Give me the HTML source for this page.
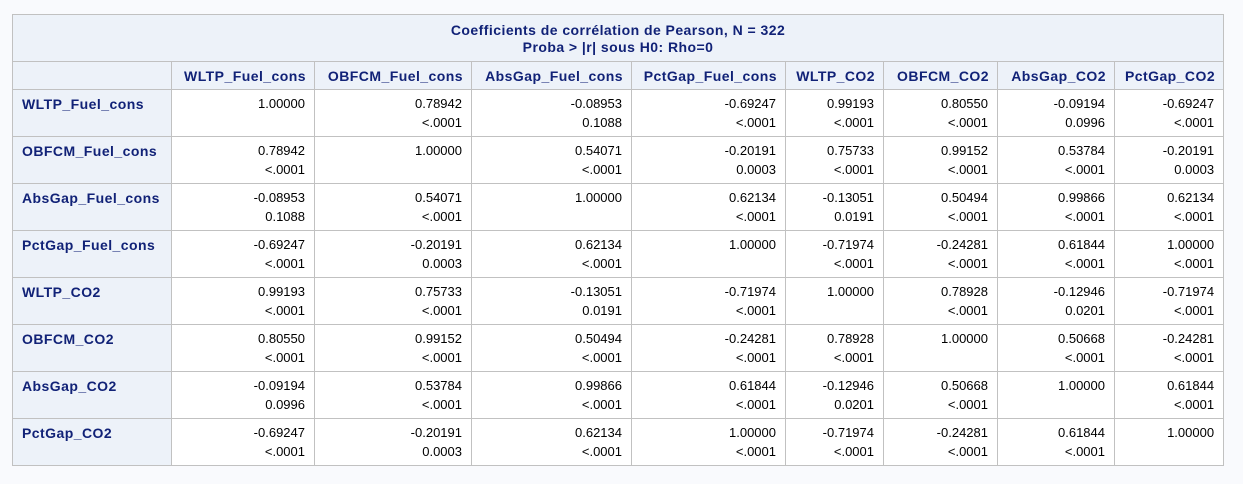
<!DOCTYPE html>
<html><head><meta charset="utf-8"><style>
body{margin:0;background:#f9fafd;width:1243px;height:484px;overflow:hidden;font-family:"Liberation Sans",Arial,sans-serif;}
table{position:absolute;left:12px;top:14px;width:1211px;border-collapse:collapse;table-layout:fixed;font-size:13px;}
td,th{border:1px solid #c1c1c1;padding:0 9px;box-sizing:border-box;}
th{background:#edf2f9;color:#112277;font-weight:bold;font-size:14px;letter-spacing:0.45px;white-space:nowrap;overflow:visible;}
th.ch{padding:0 8px 0 0;}
.title{height:47px;text-align:center;line-height:17px;padding-top:1px;}
.ch{height:28px;text-align:right;}
.rh{text-align:left;vertical-align:top;padding-top:5px;line-height:19px;height:47px;}
td{background:#fff;color:#000;text-align:right;vertical-align:top;padding-top:4px;line-height:19px;height:47px;}
</style></head><body>
<table>
<colgroup><col style="width:159px"><col style="width:143px"><col style="width:157px"><col style="width:160px"><col style="width:154px"><col style="width:98px"><col style="width:114px"><col style="width:117px"><col style="width:109px"></colgroup>
<tbody id="tb">
<tr><th class="title" colspan="9">Coefficients de corrélation de Pearson, N = 322<br>Proba &gt; |r| sous H0: Rho=0</th></tr>
</tbody></table>
<script>
const names=["WLTP_Fuel_cons","OBFCM_Fuel_cons","AbsGap_Fuel_cons","PctGap_Fuel_cons","WLTP_CO2","OBFCM_CO2","AbsGap_CO2","PctGap_CO2"];
const r=[
["1.00000","0.78942","-0.08953","-0.69247","0.99193","0.80550","-0.09194","-0.69247"],
["0.78942","1.00000","0.54071","-0.20191","0.75733","0.99152","0.53784","-0.20191"],
["-0.08953","0.54071","1.00000","0.62134","-0.13051","0.50494","0.99866","0.62134"],
["-0.69247","-0.20191","0.62134","1.00000","-0.71974","-0.24281","0.61844","1.00000"],
["0.99193","0.75733","-0.13051","-0.71974","1.00000","0.78928","-0.12946","-0.71974"],
["0.80550","0.99152","0.50494","-0.24281","0.78928","1.00000","0.50668","-0.24281"],
["-0.09194","0.53784","0.99866","0.61844","-0.12946","0.50668","1.00000","0.61844"],
["-0.69247","-0.20191","0.62134","1.00000","-0.71974","-0.24281","0.61844","1.00000"]];
const p=[
["","<.0001","0.1088","<.0001","<.0001","<.0001","0.0996","<.0001"],
["<.0001","","<.0001","0.0003","<.0001","<.0001","<.0001","0.0003"],
["0.1088","<.0001","","<.0001","0.0191","<.0001","<.0001","<.0001"],
["<.0001","0.0003","<.0001","","<.0001","<.0001","<.0001","<.0001"],
["<.0001","<.0001","0.0191","<.0001","","<.0001","0.0201","<.0001"],
["<.0001","<.0001","<.0001","<.0001","<.0001","","<.0001","<.0001"],
["0.0996","<.0001","<.0001","<.0001","0.0201","<.0001","","<.0001"],
["<.0001","0.0003","<.0001","<.0001","<.0001","<.0001","<.0001",""]];
const tb=document.getElementById('tb');
const esc=s=>s.replace(/</g,'&lt;');
let hr=document.createElement('tr');
let e=document.createElement('th');e.className='ch';


hr.appendChild(e);
names.forEach(n=>{const th=document.createElement('th');th.className='ch';th.textContent=n;


hr.appendChild(th);});
tb.appendChild(hr);
names.forEach((n,i)=>{const tr=document.createElement('tr');
const th=document.createElement('th');th.className='rh';th.textContent=n;


tr.appendChild(th);
for(let j=0;j<8;j++){const td=document.createElement('td');
td.innerHTML=esc(r[i][j])+'<br>'+esc(p[i][j]);


tr.appendChild(td);}
tb.appendChild(tr);});
</script>
</body></html>
